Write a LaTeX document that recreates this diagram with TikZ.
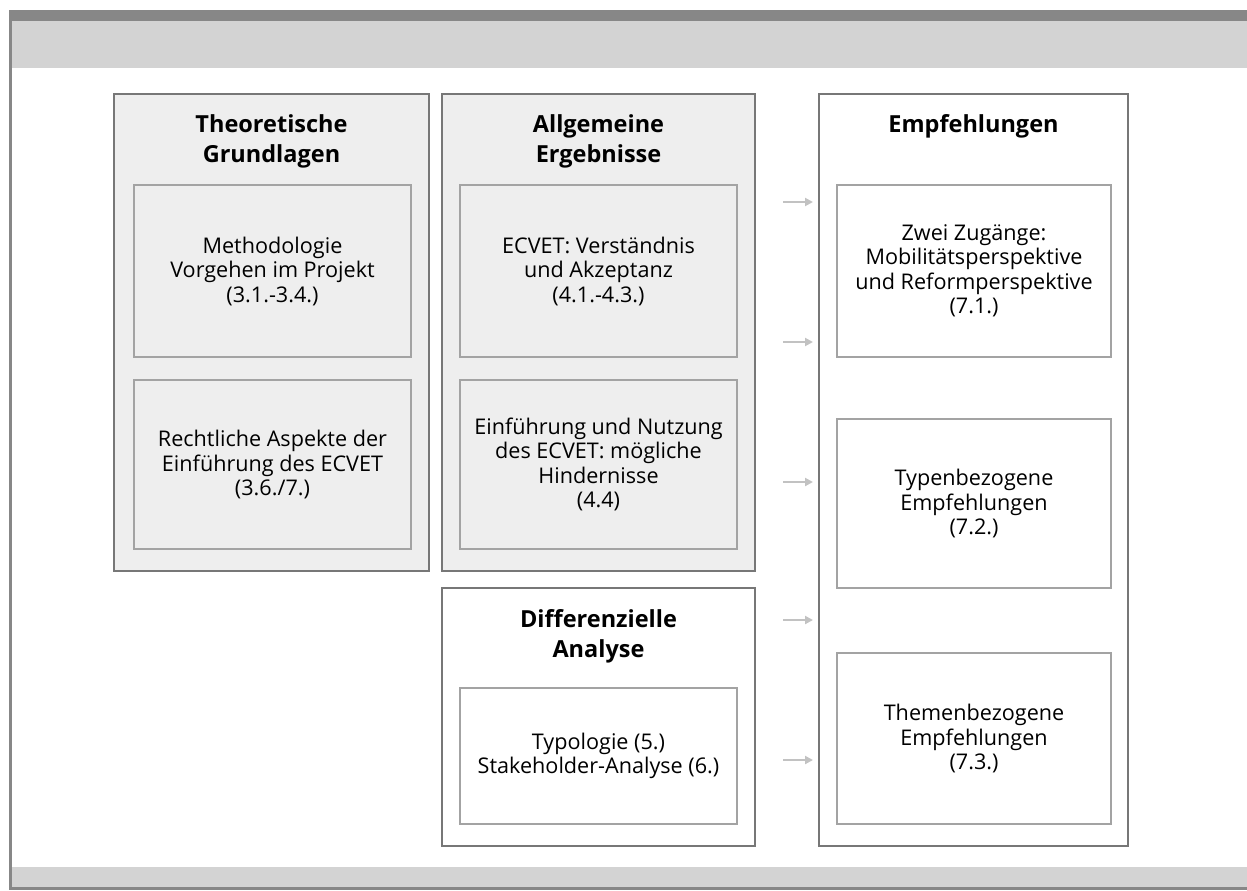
\documentclass[tikz,border=0pt]{standalone}
\usepackage{fontspec}
\setmainfont{Open Sans}
\usetikzlibrary{positioning,arrows.meta}
\definecolor{rahmengrau}{HTML}{878787}
\definecolor{bandgrau}{HTML}{D3D3D3}
\definecolor{kastengrau}{HTML}{EEEEEE}
\definecolor{liniengrau}{HTML}{777777}
\definecolor{innengrau}{HTML}{A3A3A3}
\definecolor{pfeilgrau}{HTML}{C2C2C2}
\def\textgroesse{\fontsize{21.6}{24.5}\selectfont}
\def\titelgroesse{\fontsize{23.5}{30}\selectfont}
\tikzset{
	aussen/.style={draw=liniengrau,line width=2pt,anchor=north west,inner sep=0pt,minimum width=313pt},
	innen/.style={draw=innengrau,line width=2pt,anchor=north west,align=center,font=\textgroesse,minimum width=277pt},
	titel/.style={font=\titelgroesse\bfseries,align=center,inner sep=0pt},
	pfeil/.style={draw=pfeilgrau,line width=2pt,-{Triangle[length=8pt,width=8pt]},shorten >=5pt}
}

\begin{document}
\begin{tikzpicture}[x=1pt,y=-1pt]
			\useasboundingbox (0,0) rectangle (1247,891);
			\begin{scope}
				\fill[rahmengrau] (9,10) rectangle (1247,21);
				\fill[bandgrau] (12,21) rectangle (1247,68);
				\fill[bandgrau] (12,867) rectangle (1247,887);
				\fill[rahmengrau] (9,887) rectangle (1247,890);
				\fill[rahmengrau] (9,10) rectangle (12,890);
			\end{scope}
			\node[aussen,fill=kastengrau,minimum width=315pt,minimum height=477pt] (theorie) at (113,93) {};
			\node[aussen,fill=kastengrau,minimum height=477pt] (allgemein) at (441,93) {};
			\node[aussen,fill=white,minimum height=258pt] (differenz) at (441,587) {};
			\node[aussen,fill=white,minimum width=309pt,minimum height=752pt] (empf) at (818,93) {};
			\node[titel,below=21pt of theorie.north] {Theoretische\\Grundlagen};
			\node[titel,below=21pt of allgemein.north] {Allgemeine\\Ergebnisse};
			\node[titel,below=22pt of differenz.north] {Differenzielle\\Analyse};
			\node[titel,below=21pt of empf.north] {Empfehlungen};
			\node[innen,fill=kastengrau,minimum height=172pt] (methode) at (133,184) {Methodologie\\Vorgehen im Projekt\\(3.1.-3.4.)};
			\node[innen,fill=kastengrau,minimum height=169pt] (recht) at (133,379) {Rechtliche Aspekte der\\Einführung des ECVET\\(3.6./7.)};
			\node[innen,fill=kastengrau,minimum height=172pt] (verstaendnis) at (459,184) {ECVET: Verständnis\\und Akzeptanz\\(4.1.-4.3.)};
			\node[innen,fill=kastengrau,minimum height=169pt] (hindernis) at (459,379) {Einführung und Nutzung\\des ECVET: mögliche\\Hindernisse\\(4.4)};
			\node[innen,fill=white,minimum height=136pt] (typologie) at (459,687) {Typologie (5.)\\Stakeholder-Analyse (6.)};
			\node[innen,fill=white,minimum width=274pt,minimum height=172pt] (zugaenge) at (836,184) {Zwei Zugänge:\\Mobilitätsperspektive\\und Reformperspektive\\(7.1.)};
			\node[innen,fill=white,minimum width=274pt,minimum height=169pt] (typen) at (836,418) {Typenbezogene\\Empfehlungen\\(7.2.)};
			\node[innen,fill=white,minimum width=274pt,minimum height=171pt] (themen) at (836,652) {Themenbezogene\\Empfehlungen\\(7.3.)};
			\foreach \y [count=\i] in {202,342,482,620,760}
				\coordinate (p\i) at (783,\y);
			\foreach \i in {1,...,5}
				\draw[pfeil] (p\i) -- (p\i -| empf.west);
		\end{tikzpicture}
\end{document}
